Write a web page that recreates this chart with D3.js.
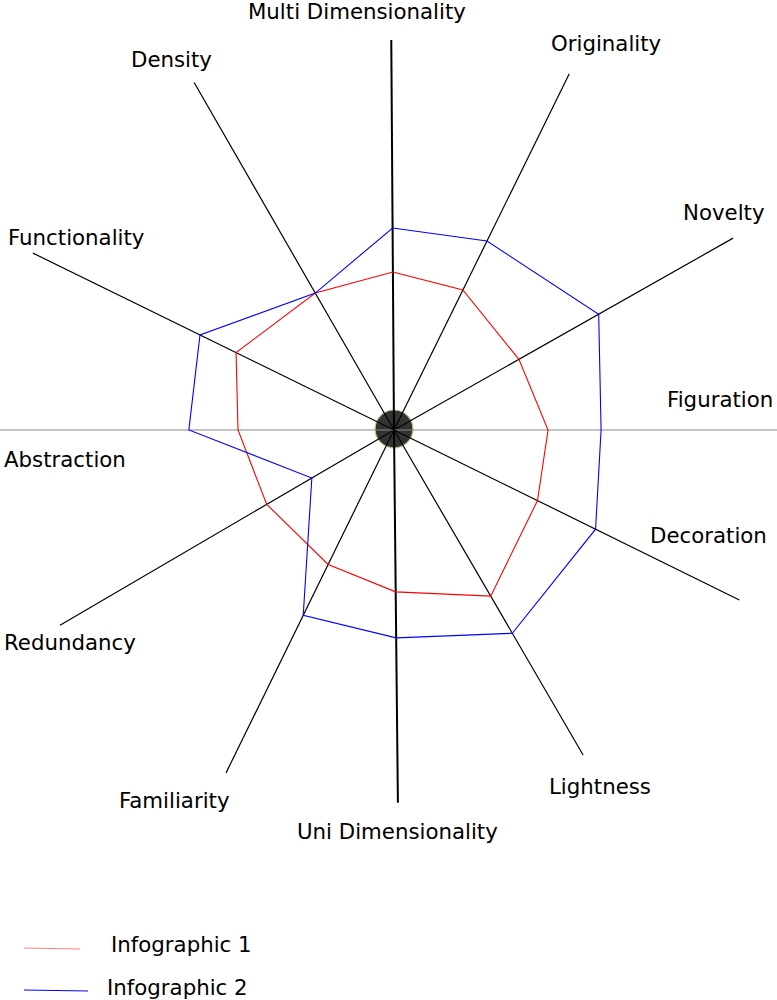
<!DOCTYPE html>
<html><head><meta charset="utf-8">
<script src="https://cdn.jsdelivr.net/npm/d3@7"></script>
<style>html,body{margin:0;padding:0;background:#fff;}svg{display:block;font-family:"DejaVu Sans",sans-serif;}</style>
</head><body>
<svg id="chart" width="777" height="1000"></svg>
<script>
const categories = ["Multi Dimensionality","Originality","Novelty","Figuration","Decoration","Lightness","Uni Dimensionality","Familiarity","Redundancy","Abstraction","Functionality","Density"];
const axisAngles = [-0.4, 26.2, 60.5, 90, 116.2, 149.8, 179.4, 206.1, 239.7, 270, 296.1, 330.1];
const axisReach = [100, 101.8, 99.9, 200, 98.7, 96.4, 95.6, 97.9, 99.2, 200, 103.1, 102.8];
const infographic1 = [40.5, 40.0, 36.8, 39.5, 41.0, 49.3, 41.5, 38.4, 37.8, 40.0, 45.1, 40.5];
const infographic2 = [51.8, 54.0, 60.3, 53.1, 57.6, 60.3, 53.3, 52.9, 24.4, 52.6, 55.4, 40.5];
const seriesNames = ["Infographic 1","Infographic 2"];

// layout (label anchors, px)
const labelPos = [[248,18.5],[551,51],[683,220],[667,407],[650,543],[549,794],[297,839],[119,808],[4,650],[4,467],[8,245],[131,67]];

const svg = d3.select("#chart");
const cx = 394, cy = 430;
const r = d3.scaleLinear().domain([0,100]).range([0,390]);
const ang = d => d * Math.PI / 180;
const g = svg.append("g").attr("transform", `translate(${cx},${cy})`);

// center disc
g.append("circle").attr("r", 19).attr("cy", -1).attr("fill", "#333").attr("stroke", "#c8c49a").attr("stroke-width", 1.2);

// axes
categories.forEach((c, i) => {
  const a = ang(axisAngles[i]);
  const R = r(axisReach[i]);
  const horiz = (axisAngles[i] === 90 || axisAngles[i] === 270);
  const vert = (i === 0 || i === 6);
  g.append("line")
    .attr("x1", 0).attr("y1", 0)
    .attr("x2", R * Math.sin(a)).attr("y2", -R * Math.cos(a))
    .attr("stroke", horiz ? "#888" : "#000")
    .attr("stroke-width", vert ? 2 : (horiz ? 1 : 1.2));
});

// series
const radial = d3.lineRadial()
  .angle((d, i) => ang(axisAngles[i]))
  .radius(d => r(d))
  .curve(d3.curveLinearClosed);
[[infographic1, "#ff0000"], [infographic2, "#0000ff"]].forEach(([vals, col]) => {
  g.append("path").attr("d", radial(vals)).attr("fill", "none").attr("stroke", col).attr("stroke-width", 1.1);
});

// labels
svg.selectAll("text.lab").data(categories).join("text")
  .attr("class", "lab")
  .attr("x", (d, i) => labelPos[i][0]).attr("y", (d, i) => labelPos[i][1])
  .attr("font-size", 21.3).attr("fill", "#000").text(d => d);

// legend
const legend = [[24, 948, 80, 111, 952, "#ff8080"], [24, 990, 88, 107, 995, "#0000ff"]];
legend.forEach((l, i) => {
  svg.append("line").attr("x1", l[0]).attr("y1", l[1]).attr("x2", l[2]).attr("y2", l[1] + 1)
    .attr("stroke", l[5]).attr("stroke-width", 1.2);
  svg.append("text").attr("x", l[3]).attr("y", l[4]).attr("font-size", 21.3).text(seriesNames[i]);
});
</script>
</body></html>
